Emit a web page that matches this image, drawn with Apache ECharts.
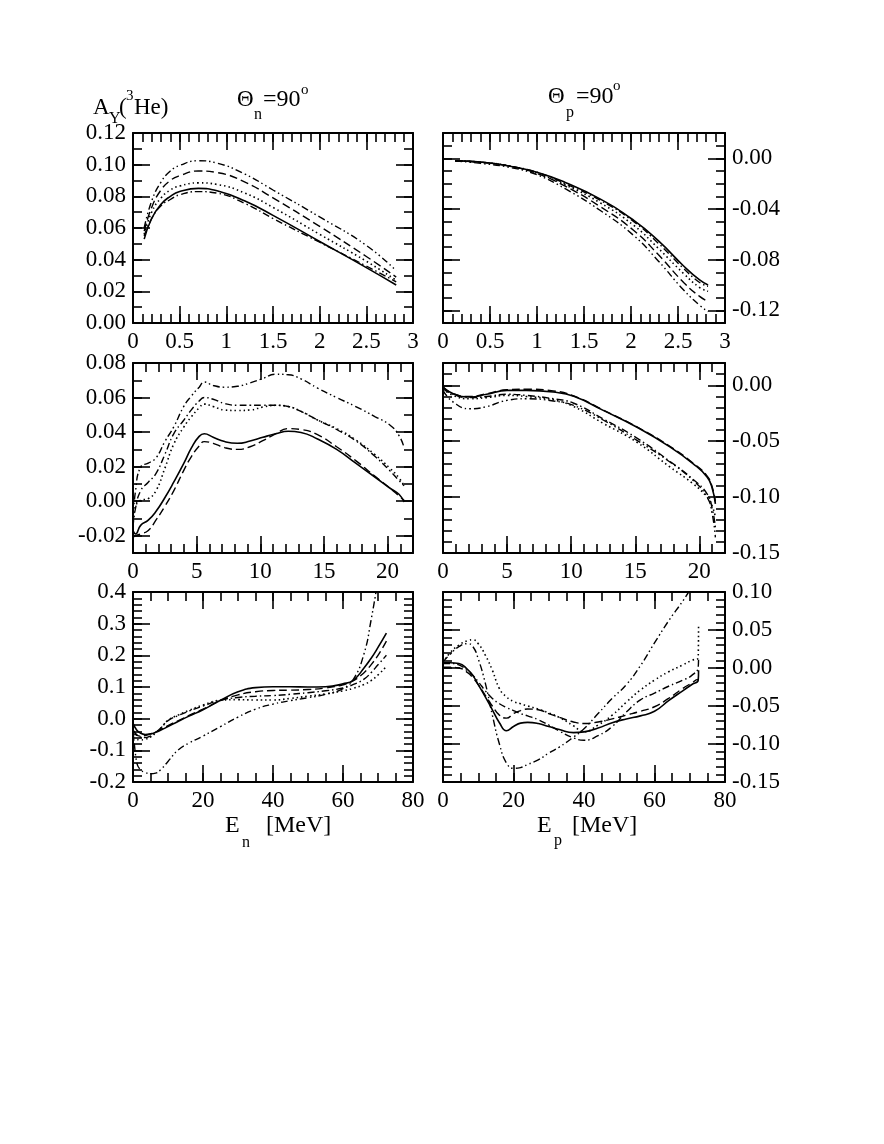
<!DOCTYPE html>
<html>
<head>
<meta charset="utf-8">
<script src="https://cdn.jsdelivr.net/npm/echarts@6.0.0/dist/echarts.min.js"></script>
<style>html, body { margin: 0; background: #fff; }</style>
</head>
<body>
<div id="main" style="width: 884px; height: 1144px;"></div>
<script type="text/javascript">
// ---- top-left: Theta_n = 90, E_n up to 3 MeV
var tlX = [0.12, 0.2, 0.3, 0.4, 0.5, 0.7, 0.9, 1.2, 1.5, 2.0, 2.5, 2.82];
var tlSolid = [0.053, 0.066, 0.075, 0.080, 0.083, 0.085, 0.0835, 0.077, 0.068, 0.0515, 0.035, 0.024];
var tlDashed = [0.058, 0.073, 0.084, 0.090, 0.093, 0.096, 0.095, 0.089, 0.079, 0.061, 0.042, 0.029];
var tlDotted = [0.056, 0.070, 0.079, 0.084, 0.0865, 0.0885, 0.0875, 0.082, 0.073, 0.056, 0.039, 0.027];
var tlDashDot = [0.055, 0.066, 0.074, 0.078, 0.081, 0.083, 0.082, 0.0755, 0.066, 0.051, 0.036, 0.026];
var tlDashDotDot = [0.060, 0.077, 0.089, 0.096, 0.0995, 0.1025, 0.101, 0.094, 0.084, 0.067, 0.049, 0.033];
var tlXTicks = [0, 0.5, 1, 1.5, 2, 2.5, 3];
var tlYTicks = [0, 0.02, 0.04, 0.06, 0.08, 0.10, 0.12];

// ---- top-right: Theta_p = 90
var trX = [0.13, 0.4, 0.7, 1.0, 1.3, 1.67, 2.03, 2.29, 2.56, 2.73, 2.82];
var trSolid = [-0.002, -0.003, -0.006, -0.011, -0.019, -0.032, -0.049, -0.065, -0.085, -0.096, -0.100];
var trDashed = [-0.002, -0.003, -0.006, -0.012, -0.022, -0.038, -0.057, -0.076, -0.098, -0.109, -0.113];
var trDotted = [-0.002, -0.003, -0.006, -0.012, -0.021, -0.035, -0.053, -0.071, -0.091, -0.102, -0.105];
var trDashDot = [-0.002, -0.003, -0.006, -0.011, -0.020, -0.033, -0.050, -0.067, -0.087, -0.098, -0.101];
var trDashDotDot = [-0.002, -0.004, -0.007, -0.013, -0.024, -0.041, -0.061, -0.081, -0.104, -0.116, -0.121];
var trXTicks = [0, 0.5, 1, 1.5, 2, 2.5, 3];
var trYTicks = [-0.12, -0.08, -0.04, 0];

// ---- middle-left
var mlX = [0, 0.2, 0.6, 1.2, 1.8, 2.5, 3.2, 4.0, 4.6, 5.2, 5.6, 6.3, 7.2, 8.2, 9.2, 10.2, 11.2, 12.2, 13.2, 14.5, 16, 17.5, 19, 20.2, 20.9, 21.3];
var mlSolid = [-0.017, -0.019, -0.014, -0.011, -0.006, 0.002, 0.011, 0.022, 0.031, 0.0375, 0.039, 0.037, 0.0345, 0.0335, 0.0348, 0.037, 0.039, 0.0405, 0.0398, 0.036, 0.030, 0.022, 0.014, 0.0075, 0.004, -0.0005];
var mlDashed = [-0.021, -0.020, -0.019, -0.017, -0.011, -0.003, 0.006, 0.018, 0.026, 0.032, 0.0345, 0.0335, 0.031, 0.030, 0.0315, 0.035, 0.039, 0.042, 0.0415, 0.0385, 0.0315, 0.0235, 0.0145, 0.0075, 0.003, 0.0005];
var mlDotted = [-0.012, -0.003, 0.0005, 0.0015, 0.006, 0.019, 0.033, 0.043, 0.049, 0.054, 0.0562, 0.0548, 0.0528, 0.0525, 0.0528, 0.0545, 0.0555, 0.0548, 0.052, 0.047, 0.042, 0.0355, 0.027, 0.019, 0.0135, 0.009];
var mlDashDot = [-0.015, -0.004, 0.006, 0.011, 0.016, 0.027, 0.039, 0.047, 0.053, 0.058, 0.060, 0.059, 0.0565, 0.0555, 0.0555, 0.0555, 0.0555, 0.0548, 0.052, 0.047, 0.0415, 0.035, 0.026, 0.0175, 0.012, 0.009];
var mlDashDotDot = [-0.010, 0.006, 0.0198, 0.022, 0.025, 0.0345, 0.043, 0.055, 0.061, 0.066, 0.069, 0.067, 0.066, 0.0665, 0.0685, 0.071, 0.0735, 0.0732, 0.0708, 0.0655, 0.060, 0.0548, 0.049, 0.044, 0.038, 0.031];
var mlXTicks = [0, 5, 10, 15, 20];
var mlYTicks = [-0.02, 0, 0.02, 0.04, 0.06, 0.08];

// ---- middle-right
var mrX = [0, 0.8, 2.1, 3.4, 5, 6.5, 8.6, 10.2, 12.5, 15.1, 17.7, 19.5, 20.6, 21.0, 21.25];
var mrSolid = [-0.0015, -0.0075, -0.0104, -0.008, -0.0045, -0.0045, -0.006, -0.0098, -0.0224, -0.0373, -0.055, -0.070, -0.082, -0.092, -0.106];
var mrDashed = [-0.0015, -0.0075, -0.0100, -0.0075, -0.004, -0.0035, -0.005, -0.0095, -0.022, -0.037, -0.0545, -0.0695, -0.081, -0.091, -0.104];
var mrDotted = [-0.003, -0.009, -0.012, -0.011, -0.009, -0.010, -0.013, -0.019, -0.034, -0.0507, -0.073, -0.088, -0.100, -0.108, -0.118];
var mrDashDot = [-0.003, -0.008, -0.011, -0.010, -0.008, -0.009, -0.012, -0.016, -0.030, -0.047, -0.068, -0.084, -0.097, -0.110, -0.127];
var mrDashDotDot = [-0.0045, -0.015, -0.021, -0.019, -0.0134, -0.012, -0.014, -0.018, -0.031, -0.049, -0.0686, -0.085, -0.100, -0.115, -0.136];
var mrXTicks = [0, 5, 10, 15, 20];
var mrYTicks = [-0.15, -0.10, -0.05, 0];

// ---- bottom-left
var blX = [0, 1, 2, 3.5, 5, 6.5, 8, 10, 13, 16, 20, 25, 30, 35, 40, 45, 50, 55, 60, 63, 66, 68, 70, 72.4];
var blSolid = [-0.015, -0.035, -0.045, -0.050, -0.048, -0.043, -0.036, -0.025, -0.008, 0.008, 0.028, 0.058, 0.085, 0.098, 0.101, 0.101, 0.100, 0.101, 0.110, 0.122, 0.160, 0.190, 0.225, 0.270];
var blDashed = [-0.045, -0.052, -0.055, -0.053, -0.048, -0.042, -0.034, -0.022, -0.006, 0.010, 0.030, 0.057, 0.075, 0.085, 0.089, 0.090, 0.092, 0.097, 0.107, 0.120, 0.145, 0.170, 0.200, 0.245];
var blDotted = [-0.060, -0.065, -0.067, -0.065, -0.058, -0.045, -0.030, -0.005, 0.012, 0.026, 0.043, 0.058, 0.060, 0.059, 0.059, 0.064, 0.071, 0.078, 0.088, 0.096, 0.108, 0.120, 0.138, 0.165];
var blDashDot = [-0.035, -0.050, -0.058, -0.060, -0.054, -0.043, -0.029, -0.006, 0.010, 0.024, 0.040, 0.058, 0.067, 0.071, 0.073, 0.077, 0.082, 0.088, 0.097, 0.108, 0.125, 0.145, 0.170, 0.200];
var blDashDotDot = [-0.020, -0.135, -0.160, -0.170, -0.174, -0.172, -0.160, -0.135, -0.098, -0.077, -0.055, -0.025, 0.005, 0.030, 0.046, 0.057, 0.066, 0.077, 0.095, 0.125, 0.205, 0.310, 0.440, null];
var blXTicks = [0, 20, 40, 60, 80];
var blYTicks = [-0.2, -0.1, 0, 0.1, 0.2, 0.3, 0.4];

// ---- bottom-right
var brX = [0, 2, 4.5, 7, 8.5, 10, 12, 14, 16, 18, 20, 22, 24, 27, 30, 33, 37, 40, 44, 48, 52, 56, 60, 64, 68, 70.5, 72.4, 72.5];
var brSolid = [0.007, 0.007, 0.006, -0.002, -0.010, -0.022, -0.038, -0.055, -0.072, -0.0825, -0.077, -0.0725, -0.0715, -0.073, -0.077, -0.081, -0.085, -0.084, -0.079, -0.072, -0.067, -0.063, -0.057, -0.043, -0.030, -0.022, -0.016, -0.003];
var brDashed = [0.001, 0.001, 0.000, -0.006, -0.013, -0.022, -0.036, -0.050, -0.062, -0.066, -0.060, -0.056, -0.054, -0.055, -0.060, -0.065, -0.071, -0.073, -0.071, -0.067, -0.062, -0.057, -0.051, -0.040, -0.027, -0.020, -0.015, -0.015];
var brDotted = [0.007, 0.020, 0.030, 0.036, 0.037, 0.032, 0.017, -0.003, -0.027, -0.038, -0.044, -0.047, -0.050, -0.054, -0.059, -0.065, -0.076, -0.084, -0.075, -0.062, -0.045, -0.029, -0.016, -0.005, 0.004, 0.010, 0.014, 0.058];
var brDashDot = [0.006, 0.006, 0.004, -0.004, -0.010, -0.018, -0.030, -0.040, -0.047, -0.052, -0.056, -0.060, -0.063, -0.068, -0.075, -0.083, -0.092, -0.095, -0.089, -0.077, -0.058, -0.042, -0.033, -0.024, -0.016, -0.010, 0.001, 0.014];
var brDashDotDot = [0.008, 0.018, 0.028, 0.032, 0.028, 0.012, -0.020, -0.062, -0.100, -0.125, -0.132, -0.131, -0.127, -0.121, -0.112, -0.104, -0.091, -0.080, -0.060, -0.040, -0.022, 0.003, 0.033, 0.062, 0.088, 0.106, null, null];
var brXTicks = [0, 20, 40, 60, 80];
var brYTicks = [-0.15, -0.10, -0.05, 0, 0.05, 0.10];

var myChart = echarts.init(document.getElementById('main'));
var FONT = '"Liberation Serif", "DejaVu Serif", serif';

// line styles in the order solid, dashed, dotted, dash-dot, dash-dot-dot
var dashes = ['solid', [8, 4], [1.5, 3], [7, 3, 1.5, 3], [7, 3, 1.5, 3, 1.5, 3]];
var widths = [1.6, 1.4, 1.6, 1.4, 1.4];

var panels = [
    {left: 133, top: 133, width: 280, x: tlX, ys: [tlSolid, tlDashed, tlDotted, tlDashDot, tlDashDotDot],
     xMin: 0, xMax: 3, xTicks: tlXTicks, xMinor: 0.1, xDec: -1,
     yMin: 0, yMax: 0.12, yTicks: tlYTicks, yMinor: 0.01, yDec: 2, ySide: 'left'},
    {left: 443, top: 133, width: 282, x: trX, ys: [trSolid, trDashed, trDotted, trDashDot, trDashDotDot],
     xMin: 0, xMax: 3, xTicks: trXTicks, xMinor: 0.1, xDec: -1,
     yMin: -0.13, yMax: 0.02, yTicks: trYTicks, yMinor: 0.01, yDec: 2, ySide: 'right'},
    {left: 133, top: 363, width: 280, x: mlX, ys: [mlSolid, mlDashed, mlDotted, mlDashDot, mlDashDotDot],
     xMin: 0, xMax: 22, xTicks: mlXTicks, xMinor: 1, xDec: -1,
     yMin: -0.03, yMax: 0.08, yTicks: mlYTicks, yMinor: 0.01, yDec: 2, ySide: 'left'},
    {left: 443, top: 363, width: 282, x: mrX, ys: [mrSolid, mrDashed, mrDotted, mrDashDot, mrDashDotDot],
     xMin: 0, xMax: 22, xTicks: mrXTicks, xMinor: 1, xDec: -1,
     yMin: -0.15, yMax: 0.02, yTicks: mrYTicks, yMinor: 0.01, yDec: 2, ySide: 'right'},
    {left: 133, top: 592, width: 280, x: blX, ys: [blSolid, blDashed, blDotted, blDashDot, blDashDotDot],
     xMin: 0, xMax: 80, xTicks: blXTicks, xMinor: 5, xDec: -1,
     yMin: -0.2, yMax: 0.4, yTicks: blYTicks, yMinor: 0.02, yDec: 1, ySide: 'left'},
    {left: 443, top: 592, width: 282, x: brX, ys: [brSolid, brDashed, brDotted, brDashDot, brDashDotDot],
     xMin: 0, xMax: 80, xTicks: brXTicks, xMinor: 5, xDec: -1,
     yMin: -0.15, yMax: 0.10, yTicks: brYTicks, yMinor: 0.01, yDec: 2, ySide: 'right'}
];

function minorTicks(min, max, step) {
    var n = Math.round((max - min) / step), out = [];
    for (var i = 0; i <= n; i++) out.push(+(min + i * step).toFixed(6));
    return out;
}

function fmt(dec) {
    return function (v) { return dec < 0 ? String(+v.toFixed(4)) : v.toFixed(dec); };
}

// one axis side = a major axis (line, long ticks, labels) + a minor axis (short ticks)
function side(grid, pos, min, max, ticks, minor, dec, labels) {
    var major = {
        type: 'value', gridIndex: grid, position: pos, min: min, max: max,
        splitLine: {show: false},
        axisLine: {show: true, onZero: false, lineStyle: {color: '#000', width: 2}},
        axisTick: {show: true, inside: true, length: 17, customValues: ticks, lineStyle: {color: '#000', width: 1.6}},
        axisLabel: {show: labels, customValues: ticks, formatter: fmt(dec), margin: 7,
                    color: '#000', fontFamily: FONT, fontSize: 23}
    };
    var small = {
        type: 'value', gridIndex: grid, position: pos, min: min, max: max,
        splitLine: {show: false},
        axisLine: {show: false, onZero: false},
        axisTick: {show: true, inside: true, length: 9, customValues: minorTicks(min, max, minor), lineStyle: {color: '#000', width: 1.6}},
        axisLabel: {show: false}
    };
    return [major, small];
}

var grids = [], xAxes = [], yAxes = [], series = [];
panels.forEach(function (p, g) {
    grids.push({left: p.left, top: p.top, width: p.width, height: 190, containLabel: false, outerBoundsMode: 'none'});
    xAxes = xAxes.concat(side(g, 'bottom', p.xMin, p.xMax, p.xTicks, p.xMinor, p.xDec, true),
                         side(g, 'top', p.xMin, p.xMax, p.xTicks, p.xMinor, p.xDec, false));
    yAxes = yAxes.concat(side(g, 'left', p.yMin, p.yMax, p.yTicks, p.yMinor, p.yDec, p.ySide === 'left'),
                         side(g, 'right', p.yMin, p.yMax, p.yTicks, p.yMinor, p.yDec, p.ySide === 'right'));
    p.ys.forEach(function (ys, k) {
        var pts = [];
        for (var i = 0; i < p.x.length; i++) {
            if (ys[i] !== null) pts.push([p.x[i], ys[i]]);
        }
        series.push({
            type: 'line', xAxisIndex: 4 * g, yAxisIndex: 4 * g, data: pts,
            showSymbol: false, smooth: 0.5, clip: true,
            lineStyle: {color: '#000', width: widths[k], type: dashes[k]}
        });
    });
});

function txt(x, y, s, size) {
    return {type: 'text', x: x, y: y, silent: true,
            style: {text: s, fill: '#000', fontFamily: FONT, fontSize: size,
                    font: size + 'px ' + FONT, align: 'left', textAlign: 'left',
                    verticalAlign: 'middle', textVerticalAlign: 'middle'}};
}

var labels = [
    txt(93, 108, 'A', 23), txt(109, 119, 'Y', 16), txt(119, 108, '(', 23), txt(126, 96, '3', 15), txt(134, 108, 'He)', 23),
    txt(237, 100, 'Θ', 23), txt(254, 115, 'n', 16), txt(263, 100, '=90', 24), txt(301, 90, 'o', 15),
    txt(548, 97, 'Θ', 23), txt(566, 113, 'p', 16), txt(576, 97, '=90', 24), txt(613, 86, 'o', 15),
    txt(225, 826, 'E', 24), txt(242, 843, 'n', 16), txt(266, 826, '[MeV]', 24),
    txt(537, 826, 'E', 24), txt(554, 841, 'p', 16), txt(572, 826, '[MeV]', 24)
];

var option = {
    backgroundColor: '#fff',
    animation: false,
    grid: grids,
    xAxis: xAxes,
    yAxis: yAxes,
    series: series,
    graphic: labels
};

myChart.setOption(option);
</script>
</body>
</html>
